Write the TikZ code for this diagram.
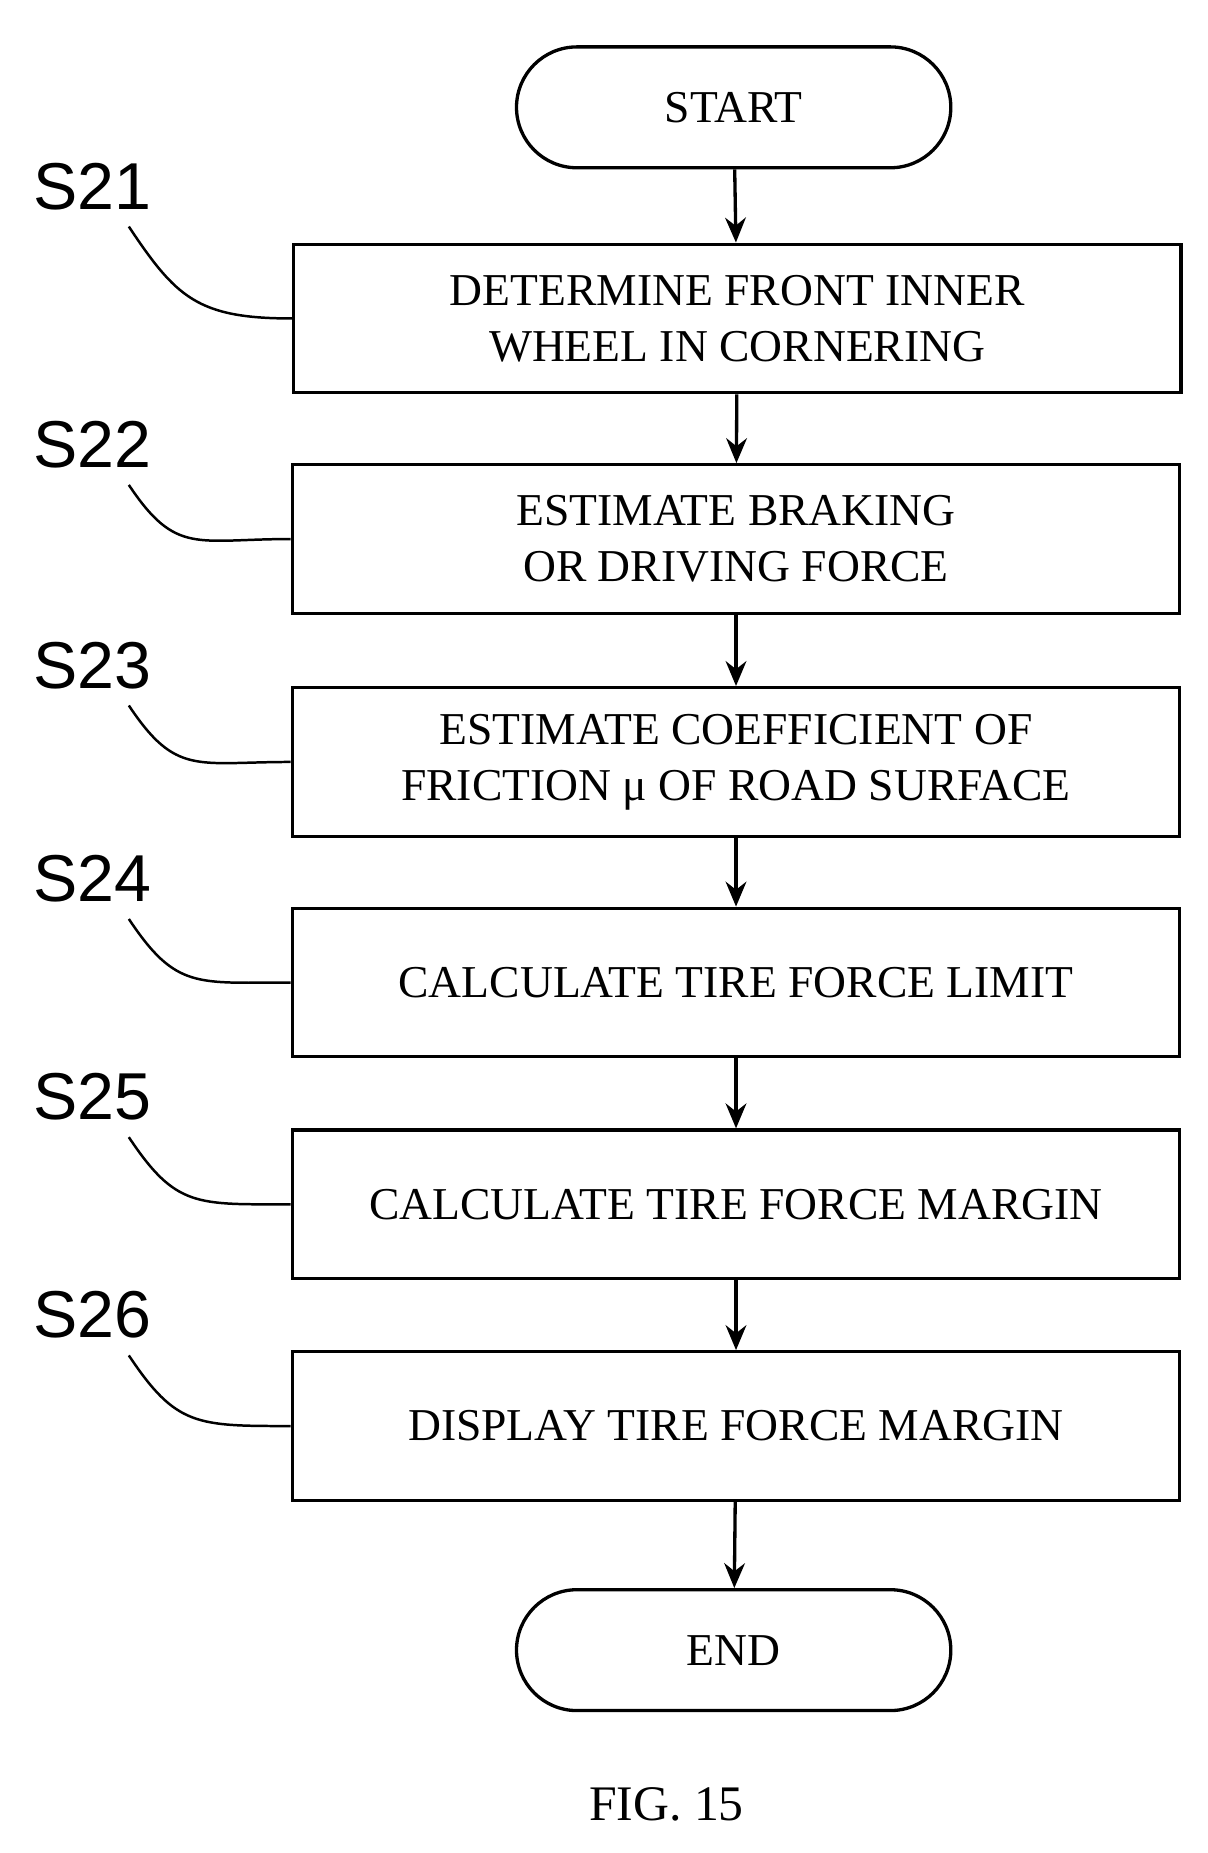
\documentclass[tikz,border=0pt]{standalone}
\usepackage{fontspec}
\setmainfont{Liberation Serif}
\newfontfamily\lab{Liberation Sans}
\usetikzlibrary{shapes.misc,arrows.meta}
\begin{document}
\begin{tikzpicture}[x=0.02cm,y=-0.02cm,
 box/.style={draw,line width=1.6pt,minimum width=15.05cm,minimum height=2.52cm,align=center,font=\fontsize{22}{27}\selectfont},
 term/.style={draw,line width=1.6pt,rounded rectangle,minimum width=7.6cm,minimum height=2.05cm,font=\fontsize{22}{27}\selectfont},
 lb/.style={font=\lab\fontsize{32}{36}\selectfont},
 ar/.style={line width=1.6pt,-{Stealth[length=12pt,width=10pt]}},
 cv/.style={line width=1.2pt}]
\useasboundingbox (0,0) rectangle (1024,1571);
\node[term] (st) at (622,91) {START};
\node[box] (b1) at (625,270) {DETERMINE FRONT INNER\\WHEEL IN CORNERING};
\node[box] (b2) at (624,457) {ESTIMATE BRAKING\\OR DRIVING FORCE};
\node[box] (b3) at (624,646) {ESTIMATE COEFFICIENT OF\\FRICTION μ OF ROAD SURFACE};
\node[box] (b4) at (624,833) {CALCULATE TIRE FORCE LIMIT};
\node[box] (b5) at (624,1021) {CALCULATE TIRE FORCE MARGIN};
\node[box] (b6) at (624,1209) {DISPLAY TIRE FORCE MARGIN};
\node[term] (en) at (622,1399) {END};
\node[font=\fontsize{24}{28}\selectfont] (fig) at (565,1530) {FIG. 15};
\draw[ar] (st) -- (b1);
\draw[ar] (b1) -- (b2);
\draw[ar] (b2) -- (b3);
\draw[ar] (b3) -- (b4);
\draw[ar] (b4) -- (b5);
\draw[ar] (b5) -- (b6);
\draw[ar] (b6) -- (en);
\foreach \n/\t/\y/\by in {l1/S21/158/b1,l2/S22/377/b2,l3/S23/564/b3,l4/S24/745/b4,l5/S25/930/b5,l6/S26/1115/b6}{
 \node[lb] (\n) at (78,\y) {\t};
 \draw[cv] (\n.south east) ++(-25,8) .. controls +(40,60) and +(-80,0) .. (\by.west);
}
\end{tikzpicture}
\end{document}
